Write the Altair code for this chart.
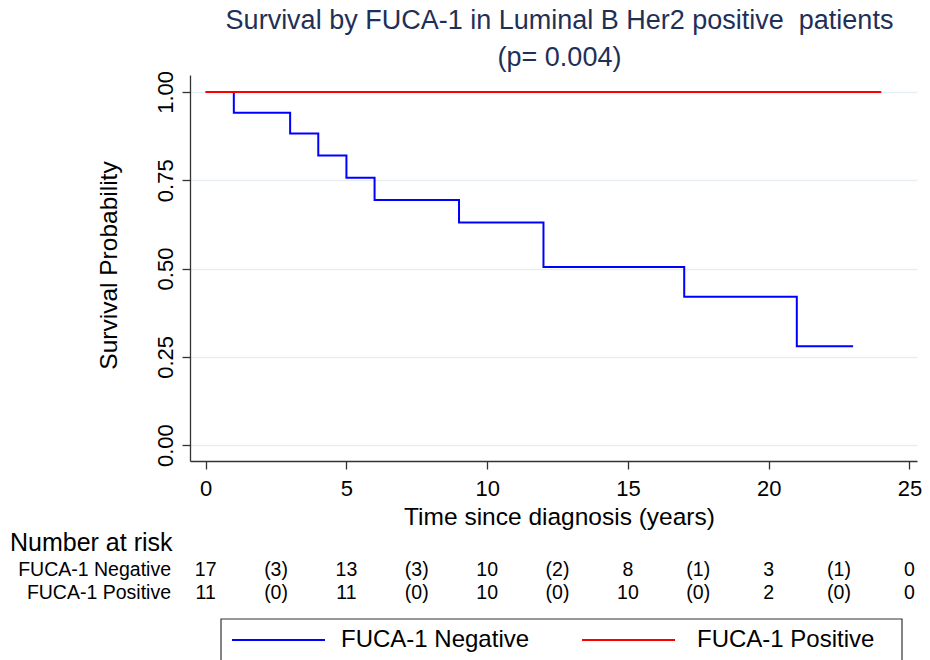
import altair as alt
import pandas as pd

# ---- data ----
groups = ["FUCA-1 Negative", "FUCA-1 Positive"]
colors = ["#0000ff", "#ff0000"]

neg_time = [0, 1, 3, 4, 5, 6, 9, 12, 17, 21, 23]
neg_surv = [1.0, 0.941, 0.882, 0.82, 0.757, 0.694, 0.63, 0.504, 0.42, 0.28, 0.28]
pos_time = [0, 24]
pos_surv = [1.0, 1.0]

risk_time = [0, 2.5, 5, 7.5, 10, 12.5, 15, 17.5, 20, 22.5, 25]
neg_risk = ["17", "(3)", "13", "(3)", "10", "(2)", "8", "(1)", "3", "(1)", "0"]
pos_risk = ["11", "(0)", "11", "(0)", "10", "(0)", "10", "(0)", "2", "(0)", "0"]

x_ticks = [0, 5, 10, 15, 20, 25]
y_ticks = [0, 0.25, 0.5, 0.75, 1.0]

title_lines = ["Survival by FUCA-1 in Luminal B Her2 positive \u00a0patients", "(p= 0.004)"]

# ---- frames ----
curves = pd.DataFrame({
    "time": neg_time + pos_time,
    "surv": neg_surv + pos_surv,
    "group": [groups[0]] * len(neg_time) + [groups[1]] * len(pos_time),
})

FONT = "Liberation Sans"

W, H = 727, 386
xscale = alt.Scale(domain=[-0.557, 25.27], nice=False, zero=False)
yscale = alt.Scale(domain=[-0.045, 1.048], nice=False, zero=False)

x_axis = alt.Axis(values=x_ticks, title="Time since diagnosis (years)",
                  grid=False, tickSize=8, labelFontSize=22, labelFont=FONT,
                  labelBaseline="alphabetic", labelPadding=26,
                  titleFontSize=24.5, titleFont=FONT, titleFontWeight="normal",
                  titleX=369, titleY=63, titleBaseline="alphabetic",
                  titleAlign="center")
y_axis = alt.Axis(values=y_ticks, format=".2f", title="Survival Probability",
                  grid=True, gridColor="#e6eef2", gridWidth=1.5,
                  tickSize=8, labelFontSize=22, labelFont=FONT,
                  labelAngle=270, labelAlign="center", labelBaseline="alphabetic",
                  labelPadding=10,
                  titleFontSize=24.5, titleFont=FONT, titleFontWeight="normal",
                  titleAngle=270, titleX=-74, titleY=190,
                  titleAlign="center", titleBaseline="alphabetic")

lines = alt.Chart(curves).mark_line(interpolate="step-after", strokeWidth=2).encode(
    x=alt.X("time:Q", scale=xscale, axis=x_axis),
    y=alt.Y("surv:Q", scale=yscale, axis=y_axis),
    color=alt.Color("group:N", scale=alt.Scale(domain=groups, range=colors), legend=None),
    detail="group:N",
)

layers = [lines]

# number-at-risk table
heading = alt.Chart(pd.DataFrame({"t": ["Number at risk"]})).mark_text(
    align="left", baseline="middle", fontSize=25, font=FONT, color="black"
).encode(x=alt.value(-180), y=alt.value(468), text="t:N")
layers.append(heading)

for grp, vals, ypix in [(groups[0], neg_risk, 495), (groups[1], pos_risk, 518)]:
    lab = alt.Chart(pd.DataFrame({"t": [grp]})).mark_text(
        align="right", baseline="middle", fontSize=19.5, font=FONT, color="black"
    ).encode(x=alt.value(-19), y=alt.value(ypix), text="t:N")
    nums = alt.Chart(pd.DataFrame({"time": risk_time, "n": vals})).mark_text(
        align="center", baseline="middle", fontSize=19.5, font=FONT, color="black"
    ).encode(x=alt.X("time:Q", scale=xscale, axis=x_axis), y=alt.value(ypix), text="n:N")
    layers += [lab, nums]

# legend box below the table
box = alt.Chart(pd.DataFrame({"k": [0]})).mark_rect(
    fill="white", stroke="#333333", strokeWidth=1.2
).encode(x=alt.value(31), x2=alt.value(712), y=alt.value(544), y2=alt.value(600))
layers.append(box)

for grp, col, x0, xt in [(groups[0], colors[0], 42, 151), (groups[1], colors[1], 392, 507)]:
    sw = alt.Chart(pd.DataFrame({"g": [grp]})).mark_rule(strokeWidth=2, color=col).encode(
        x=alt.value(x0), x2=alt.value(x0 + 93), y=alt.value(565))
    tx = alt.Chart(pd.DataFrame({"g": [grp]})).mark_text(
        align="left", baseline="middle", fontSize=24, font=FONT, color="black"
    ).encode(x=alt.value(xt), y=alt.value(565), text="g:N")
    layers += [sw, tx]

chart = alt.layer(*layers).properties(
    width=W, height=H,
    autosize=alt.AutoSizeParams(type="none"),
    padding={"left": 182, "top": 67, "right": 5, "bottom": 199},
    title=alt.TitleParams(text=title_lines, fontSize=27, font=FONT, fontWeight="normal",
                          color="#1f3057", anchor="middle", lineHeight=37, offset=6,
                          dx=6, dy=7),
).configure_view(stroke=None).configure_axis(
    domainColor="#333333", domainWidth=1.3, tickColor="#333333", tickWidth=1.3,
    labelColor="black", titleColor="black"
)

chart.save("out.html", embed_options={"renderer": "svg", "actions": False})
